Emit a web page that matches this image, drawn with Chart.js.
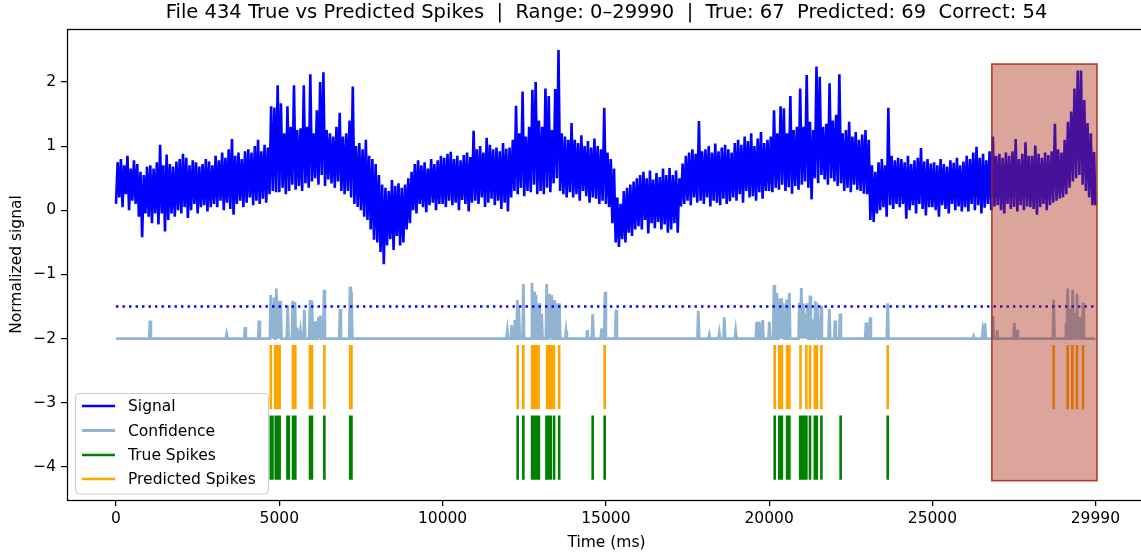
<!DOCTYPE html>
<html>
<head>
<meta charset="utf-8">
<script src="https://cdn.jsdelivr.net/npm/chart.js@4.4.1/dist/chart.umd.min.js"></script>
<style>
  html, body { margin: 0; padding: 0; background: #ffffff; }
  #wrap { width: 1141px; height: 554px; overflow: hidden; position: relative; }
</style>
</head>
<body>
<div id="wrap"><canvas id="c" width="1150" height="554" style="width:1150px;height:554px"></canvas></div>
<script>
// ---------- DATA ----------
const titleText = "File 434 True vs Predicted Spikes  |  Range: 0\u201329990  |  True: 67  Predicted: 69  Correct: 54";
const xTicks = [0, 5000, 10000, 15000, 20000, 25000, 29990];
const yTicks = [-4, -3, -2, -1, 0, 1, 2];
const binMs = 100;           // signal envelope sampled every 100 ms
const signalEnd = 29990;

// upper envelope of the signal, one value per 100 ms
const signalHigh = [
  0.75,0.80,0.70,0.85,0.65,0.78,0.72,0.60,0.55,0.68,
  0.70,0.65,0.75,1.02,0.70,0.87,0.72,0.68,0.76,0.80,
  0.88,0.82,0.70,0.78,0.75,0.68,0.72,0.80,0.76,0.70,
  0.85,0.78,0.90,0.82,0.95,1.11,0.85,0.90,0.80,0.92,
  0.95,0.90,1.00,1.10,0.92,1.02,0.98,1.62,1.60,1.95,
  1.67,1.20,1.62,1.30,1.95,1.25,1.28,1.95,1.30,2.12,
  1.20,1.56,2.00,2.15,1.25,1.20,1.15,1.30,1.52,1.15,
  1.20,1.40,1.93,1.00,1.05,0.95,1.10,0.85,0.80,0.72,
  0.55,0.40,0.35,0.30,0.47,0.38,0.42,0.35,0.40,0.50,
  0.60,0.72,0.78,0.70,0.75,0.65,0.80,0.72,0.78,0.85,
  0.82,0.88,0.91,0.80,0.85,0.78,0.86,0.90,0.83,1.24,
  0.95,1.00,0.90,1.13,1.02,0.95,0.98,0.92,1.05,0.96,
  0.98,1.10,1.63,1.20,1.85,1.15,1.30,1.88,2.00,1.40,
  1.30,1.90,1.78,1.25,1.89,2.50,1.20,1.15,1.10,1.36,
  1.10,1.05,1.17,1.00,1.08,0.98,1.12,1.00,0.95,1.60,
  0.90,0.80,0.65,0.20,0.10,0.30,0.35,0.40,0.45,0.50,
  0.55,0.60,0.50,0.62,0.48,0.58,0.52,0.65,0.55,0.66,
  0.55,0.62,0.50,0.73,0.85,0.90,0.95,0.88,1.39,0.92,
  0.95,1.00,0.90,1.04,0.92,0.98,1.02,0.95,0.90,1.05,
  1.10,1.02,1.15,1.08,1.20,1.00,1.12,1.22,1.05,1.10,
  1.15,1.56,1.20,1.62,1.59,1.20,1.78,1.25,1.30,1.90,
  1.30,2.11,1.38,1.25,2.24,2.08,1.30,1.35,1.98,1.40,
  1.49,2.12,1.20,1.25,1.38,1.15,1.22,1.10,1.18,1.25,
  1.10,0.70,0.60,0.75,0.80,0.70,1.60,0.85,0.78,0.82,
  0.80,0.75,0.85,0.72,0.78,0.82,0.97,0.76,0.80,0.73,
  0.75,0.70,0.80,0.72,0.68,0.78,0.74,0.82,0.70,0.76,
  0.85,0.80,0.90,0.99,0.82,0.88,0.78,0.92,1.15,0.85,
  0.88,0.82,0.90,0.85,0.92,1.11,0.80,0.88,1.06,0.85,
  0.85,1.01,0.88,0.82,0.90,0.86,0.92,1.35,0.95,0.90,
  1.10,1.38,1.54,1.90,2.18,2.18,1.72,1.36,1.20,0.91
];
// lower envelope of the signal, one value per 100 ms
const signalLow = [
  0.10,0.20,0.05,0.25,0.00,0.15,0.10,-0.10,-0.42,-0.05,
  -0.10,-0.20,-0.05,-0.22,-0.05,-0.33,-0.15,-0.05,-0.10,0.00,
  -0.05,0.05,-0.12,0.00,0.10,-0.05,0.05,0.08,-0.02,0.05,
  0.10,0.05,0.15,0.00,0.12,0.02,-0.07,0.10,0.15,0.05,
  0.12,0.20,0.08,0.15,0.10,0.18,0.12,0.25,0.30,0.28,
  0.28,0.35,0.25,0.30,0.40,0.32,0.38,0.30,0.42,0.35,
  0.45,0.50,0.40,0.55,0.38,0.48,0.42,0.35,0.45,0.30,
  0.25,0.30,0.20,0.10,0.05,0.00,-0.10,-0.15,-0.30,-0.46,
  -0.50,-0.65,-0.84,-0.55,-0.45,-0.62,-0.40,-0.55,-0.50,-0.30,
  -0.20,0.00,-0.05,0.10,0.05,-0.03,0.08,0.12,0.00,0.10,
  0.10,0.05,0.15,0.08,0.12,0.00,0.16,0.10,-0.02,0.12,
  0.15,0.10,0.20,0.05,0.12,0.18,0.08,0.15,0.02,0.12,
  -0.02,0.20,0.30,0.25,0.35,0.22,0.30,0.28,0.40,0.25,
  0.30,0.25,0.35,0.28,0.42,0.50,0.30,0.25,0.20,0.28,
  0.20,0.25,0.15,0.30,0.22,0.12,0.20,0.18,0.10,0.15,
  0.10,0.05,-0.20,-0.50,-0.57,-0.45,-0.50,-0.35,-0.40,-0.30,
  -0.25,-0.30,-0.15,-0.36,-0.20,-0.28,-0.18,-0.30,-0.22,-0.35,
  -0.30,-0.20,-0.35,0.06,0.10,0.15,0.08,0.20,0.12,0.15,
  0.10,0.20,0.06,0.15,0.12,0.08,0.18,0.10,0.14,0.20,
  0.15,0.25,0.12,0.30,0.20,0.22,0.15,0.28,0.18,0.30,
  0.30,0.28,0.35,0.32,0.40,0.30,0.36,0.26,0.38,0.32,
  0.40,0.45,0.35,0.17,0.50,0.42,0.55,0.48,0.40,0.50,
  0.45,0.38,0.42,0.30,0.35,0.28,0.40,0.32,0.30,0.26,
  0.25,-0.15,-0.18,-0.05,0.00,0.05,-0.10,0.08,0.02,0.10,
  0.05,0.10,-0.13,0.00,0.08,-0.05,0.10,0.02,-0.08,0.05,
  0.05,0.00,-0.10,0.08,0.02,-0.05,0.10,0.00,0.06,-0.02,
  0.05,-0.02,0.10,0.00,0.08,-0.05,0.04,0.10,0.00,0.06,
  0.08,0.00,-0.05,0.10,0.02,0.05,-0.02,0.08,0.00,0.06,
  0.05,0.02,-0.07,0.05,0.10,0.00,0.08,0.12,0.15,0.18,
  0.20,0.25,0.35,0.45,0.50,0.55,0.40,0.30,0.20,0.08
];

// confidence trace: baseline plus peaks (time ms, plotted value)
const confBase = -2.0;
const confPeakTimes = [
  1041,3390,3950,4379,4736,4790,4838,4910,4970,5042,5257,5410,5480,5550,5650,5767,
  5941,6000,6094,6200,6260,6370,6860,7166,7210,
  11983,12116,12220,12289,12340,12473,12738,12800,12860,12953,13035,13188,13270,13340,
  13412,13494,13576,13780,14433,14597,14870,14974,15311,
  17831,18168,18475,18628,18975,19618,19700,19802,20006,20149,20210,20312,20384,20435,
  20537,20619,20925,20986,21048,21120,21170,21252,21334,21415,21476,21589,21844,22018,
  22171,22967,23090,23630,
  26262,26540,26609,26854,26977,27508,27590,28712,29090,29141,29210,29294,29360,29427,
  29490,29540,29611
];
const confPeakValues = [
  -1.72,-1.93,-1.82,-1.72,-1.32,-1.55,-1.36,-1.22,-1.41,-1.41,-1.48,-1.41,-1.43,-1.83,-1.88,-1.55,
  -1.40,-1.41,-1.73,-1.66,-1.64,-1.24,-1.54,-1.19,-1.27,
  -1.88,-1.79,-1.71,-1.40,-1.50,-1.15,-1.13,-1.27,-1.32,-1.45,-1.61,-1.15,-1.30,-1.32,
  -1.40,-1.45,-1.45,-1.88,-1.87,-1.62,-1.84,-1.27,-1.55,
  -1.565,-1.94,-1.91,-1.67,-1.88,-1.74,-1.74,-1.71,-1.74,-1.165,-1.29,-1.37,-1.37,-1.45,
  -1.39,-1.29,-1.44,-1.21,-1.45,-1.61,-1.45,-1.33,-1.70,-1.42,-1.45,-1.49,-1.54,-1.72,
  -1.61,-1.75,-1.67,-1.45,
  -1.96,-1.89,-1.76,-1.65,-1.87,-1.76,-1.86,-1.39,-1.76,-1.22,-1.54,-1.24,-1.60,-1.30,
  -1.66,-1.68,-1.44
];
const threshold = -1.5;

const trueSpikeTimes = [
  4740,4790,4890,4950,5010,5250,5290,5420,5490,5940,6000,6380,7170,7210,
  12300,12473,12740,12810,12880,12950,13180,13250,13310,13415,13570,14597,14964,
  20170,20310,20390,20550,20620,20950,21010,21070,21140,21250,21400,21460,21600,22190,23630
];
const predSpikeTimes = [
  4740,4870,4940,5010,5420,5490,5940,6000,6380,7170,7210,
  12300,12472,12740,12810,12880,12940,13200,13270,13330,13410,13570,14964,
  20170,20310,20390,20550,20620,20960,21140,21250,21400,21460,21600,23630,
  28712,29141,29284,29427,29611
];
const predRow = [-3.1, -2.1];
const trueRow = [-4.2, -3.2];

const highlightX = [26820, 30040];
const highlightY = [-4.215, 2.28];

const legendLabels = ["Signal", "Confidence", "True Spikes", "Predicted Spikes"];

// ---------- build tables for Chart.js ----------
const signalPts = [];
for (let i = 0; i < signalHigh.length; i++) {
  const t0 = i * binMs;
  signalPts.push({x: t0, y: signalLow[i]});
  signalPts.push({x: Math.min(t0 + binMs / 2, signalEnd), y: signalHigh[i]});
}
signalPts.push({x: signalEnd, y: signalLow[signalLow.length - 1]});

const confPts = [{x: 0, y: confBase}];
for (let i = 0; i < confPeakTimes.length; i++) {
  const t = confPeakTimes[i];
  confPts.push({x: t - 25, y: confBase});
  confPts.push({x: t, y: confPeakValues[i]});
  confPts.push({x: t + 25, y: confBase});
}
confPts.push({x: signalEnd, y: confBase});

function spikePts(times, row) {
  const out = [];
  times.forEach(t => {
    out.push({x: t, y: row[1]});
    out.push({x: t, y: row[0]});
    out.push({x: t, y: null});
  });
  return out;
}

const FONT = "'DejaVu Sans', 'Liberation Sans', sans-serif";
const C_SIGNAL = '#0000ff';
const C_CONF = 'rgba(70,130,180,0.6)';
const C_TRUE = '#008000';
const C_PRED = '#ffa500';

const overlayPlugin = {
  id: 'overlay',
  afterDatasetsDraw(chart) {
    const {ctx, scales: {x, y}} = chart;
    const x0 = x.getPixelForValue(highlightX[0]);
    const x1 = x.getPixelForValue(highlightX[1]);
    const y0 = y.getPixelForValue(highlightY[1]);
    const y1 = y.getPixelForValue(highlightY[0]);
    ctx.save();
    ctx.fillStyle = 'rgba(170,40,20,0.42)';
    ctx.fillRect(x0, y0, x1 - x0, y1 - y0);
    ctx.strokeStyle = 'rgba(170,35,15,0.85)';
    ctx.lineWidth = 1.6;
    ctx.strokeRect(x0, y0, x1 - x0, y1 - y0);
    ctx.restore();
  },
  afterDraw(chart) {
    const {ctx, chartArea: a} = chart;
    ctx.save();
    // frame
    ctx.strokeStyle = '#000';
    ctx.lineWidth = 1.25;
    ctx.strokeRect(Math.round(a.left) + 0.5, Math.round(a.top) + 0.5,
                   Math.round(a.right - a.left), Math.round(a.bottom - a.top));
    // title
    ctx.fillStyle = '#000';
    ctx.textAlign = 'center';
    ctx.textBaseline = 'middle';
    ctx.font = '19.5px ' + FONT;
    const cx = (a.left + a.right) / 2;
    ctx.fillText(titleText, cx, 13);
    // axis titles
    ctx.font = '15.5px ' + FONT;
    ctx.fillText('Time (ms)', cx, 543);
    ctx.save();
    ctx.translate(17, (a.top + a.bottom) / 2);
    ctx.rotate(-Math.PI / 2);
    ctx.fillText('Normalized signal', 0, 0);
    ctx.restore();
    // legend
    const bx = 75.5, by = 393.5, bw = 193, bh = 100.5, r = 4;
    ctx.beginPath();
    ctx.moveTo(bx + r, by);
    ctx.lineTo(bx + bw - r, by);
    ctx.arcTo(bx + bw, by, bx + bw, by + r, r);
    ctx.lineTo(bx + bw, by + bh - r);
    ctx.arcTo(bx + bw, by + bh, bx + bw - r, by + bh, r);
    ctx.lineTo(bx + r, by + bh);
    ctx.arcTo(bx, by + bh, bx, by + bh - r, r);
    ctx.lineTo(bx, by + r);
    ctx.arcTo(bx, by, bx + r, by, r);
    ctx.closePath();
    ctx.fillStyle = 'rgba(255,255,255,0.8)';
    ctx.fill();
    ctx.strokeStyle = '#cccccc';
    ctx.lineWidth = 1.2;
    ctx.stroke();
    const colors = [C_SIGNAL, C_CONF, C_TRUE, C_PRED];
    const widths = [2.4, 3.2, 2.6, 2.6];
    const rows = [406, 430.5, 455, 479];
    ctx.textAlign = 'left';
    ctx.textBaseline = 'middle';
    ctx.font = '15.5px ' + FONT;
    for (let i = 0; i < 4; i++) {
      ctx.beginPath();
      ctx.moveTo(82, rows[i]);
      ctx.lineTo(115, rows[i]);
      ctx.strokeStyle = colors[i];
      ctx.lineWidth = widths[i];
      ctx.lineCap = 'butt';
      ctx.stroke();
      ctx.fillStyle = '#000';
      ctx.fillText(legendLabels[i], 128, rows[i] + 1);
    }
    ctx.restore();
  }
};

const minus = v => (v < 0 ? '\u2212' + Math.abs(v) : String(v));

new Chart(document.getElementById('c'), {
  type: 'line',
  data: {
    datasets: [
      {label: 'Signal', data: signalPts, borderColor: C_SIGNAL, borderWidth: 2.6,
       pointRadius: 0, tension: 0, order: 5, borderJoinStyle: 'bevel'},
      {label: 'Confidence', data: confPts, borderColor: C_CONF, borderWidth: 2.8,
       pointRadius: 0, tension: 0, order: 4},
      {label: 'Threshold', data: [{x: 0, y: threshold}, {x: signalEnd, y: threshold}],
       borderColor: C_SIGNAL, borderWidth: 2.4, borderDash: [2.4, 4.1], borderCapStyle: 'butt',
       pointRadius: 0, order: 3},
      {label: 'True Spikes', data: spikePts(trueSpikeTimes, trueRow), borderColor: C_TRUE,
       borderWidth: 2.6, borderCapStyle: 'butt', pointRadius: 0, spanGaps: false, order: 2},
      {label: 'Predicted Spikes', data: spikePts(predSpikeTimes, predRow), borderColor: C_PRED,
       borderWidth: 2.6, borderCapStyle: 'butt', pointRadius: 0, spanGaps: false, order: 1}
    ]
  },
  options: {
    responsive: false,
    devicePixelRatio: 1,
    animation: false,
    events: [],
    layout: {padding: {top: 29, right: 4, left: 0, bottom: 0}},
    plugins: {legend: {display: false}, title: {display: false}, tooltip: {enabled: false}},
    scales: {
      x: {
        type: 'linear', min: -1501, max: 31540,
        afterFit: s => { s.height = 54; },
        afterBuildTicks: s => { s.ticks = xTicks.map(v => ({value: v})); },
        grid: {display: true, drawOnChartArea: false, drawTicks: true, tickLength: 6,
               color: '#000', lineWidth: 1.25},
        border: {display: false},
        ticks: {autoSkip: false, maxRotation: 0, padding: 4, color: '#000',
                font: {family: FONT, size: 15.5}, callback: v => String(v)}
      },
      y: {
        type: 'linear', min: -4.516, max: 2.826,
        afterFit: s => { s.width = 67; },
        afterBuildTicks: s => { s.ticks = yTicks.map(v => ({value: v})); },
        grid: {display: true, drawOnChartArea: false, drawTicks: true, tickLength: 6,
               color: '#000', lineWidth: 1.25},
        border: {display: false},
        ticks: {autoSkip: false, padding: 5, color: '#000',
                font: {family: FONT, size: 15.5}, callback: v => minus(v)}
      }
    }
  },
  plugins: [overlayPlugin]
});
</script>
</body>
</html>
